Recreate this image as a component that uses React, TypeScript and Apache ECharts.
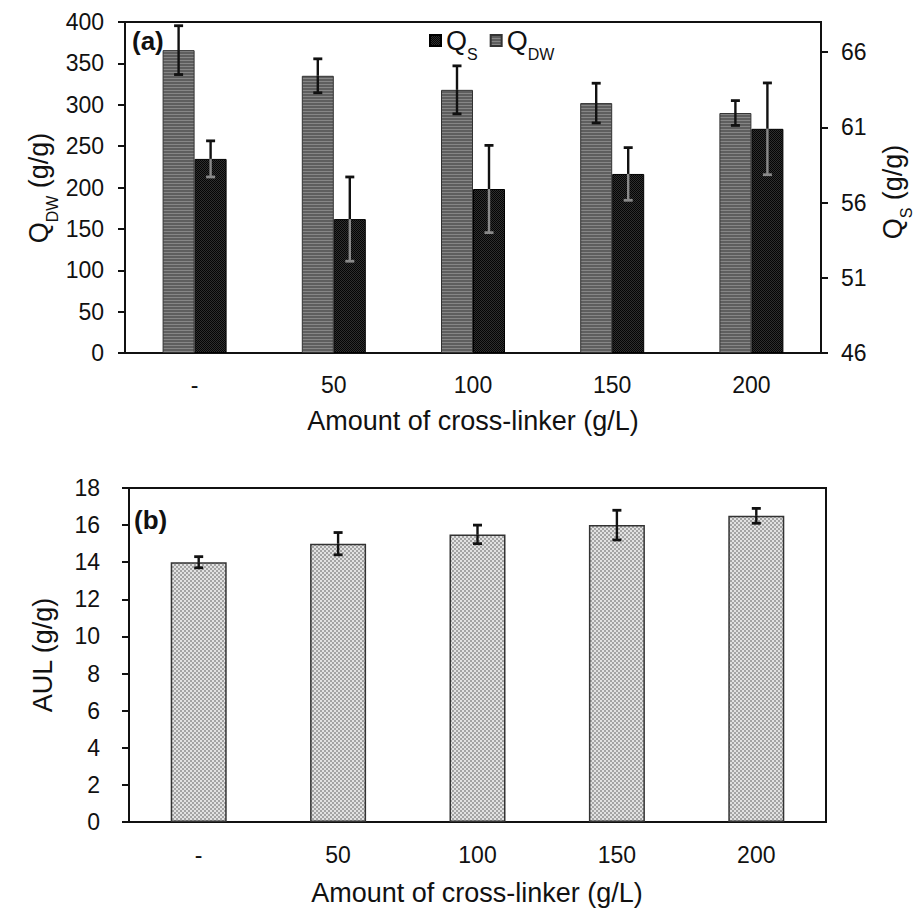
import React, { useEffect, useRef } from "react";
import * as echarts from "echarts";

// ---- data ----
const categories = ["-", "50", "100", "150", "200"];
const qdwValues = [366, 335, 318, 302, 290];
const qdwErrors = [29.5, 20.5, 29, 24, 15];
const qsValues = [58.9, 54.9, 56.9, 57.9, 60.9];
const qsErrors = [1.2, 2.8, 2.9, 1.75, 3.05];
const aulValues = [14.0, 15.0, 15.5, 16.0, 16.5];
const aulErrors = [0.3, 0.6, 0.5, 0.8, 0.4];
const qsAxisMin = 46;
const qsAxisMax = 68;
const qsTickValues = [46, 51, 56, 61, 66];

const FONT = "'Liberation Sans', Arial, Helvetica, sans-serif";
const INK = "#111";
const TOP_BAR_W = 32;
const BOT_BAR_W = 56;

function makePattern(pixels: string[][]) {
  const h = pixels.length;
  const w = pixels[0].length;
  const c = document.createElement("canvas");
  c.width = w;
  c.height = h;
  const ctx = c.getContext("2d")!;
  for (let y = 0; y < h; y++) {
    for (let x = 0; x < w; x++) {
      ctx.fillStyle = pixels[y][x];
      ctx.fillRect(x, y, 1, 1);
    }
  }
  return { image: c.toDataURL(), repeat: "repeat", imageWidth: w, imageHeight: h };
}

function errorSeries(name: string, values: number[], errors: number[], base: number, xAxisIndex: number, yAxisIndex: number, offset: number, innerColor: string) {
  return {
    type: "custom",
    name,
    xAxisIndex,
    yAxisIndex,
    z: 10,
    silent: true,
    data: values.map((v, i) => [i, v - base, errors[i]]),
    renderItem: (params: any, api: any) => {
      const i = api.value(0);
      const v = api.value(1);
      const e = api.value(2);
      const pTop = api.coord([i, v + e]);
      const pMid = api.coord([i, v]);
      const pBot = api.coord([i, v - e]);
      const x = pTop[0] + offset;
      const cap = 4.5;
      return {
        type: "group",
        children: [
          { type: "line", shape: { x1: x, y1: pTop[1], x2: x, y2: pMid[1] }, style: { stroke: INK, lineWidth: 2.4 } },
          { type: "line", shape: { x1: x, y1: pMid[1], x2: x, y2: pBot[1] }, style: { stroke: innerColor, lineWidth: 2.4 } },
          { type: "line", shape: { x1: x - cap, y1: pTop[1], x2: x + cap, y2: pTop[1] }, style: { stroke: INK, lineWidth: 2.8 } },
          { type: "line", shape: { x1: x - cap, y1: pBot[1], x2: x + cap, y2: pBot[1] }, style: { stroke: innerColor, lineWidth: 2.8 } },
        ],
      };
    },
  };
}

export default function App() {
  const ref = useRef<HTMLDivElement>(null);
  useEffect(() => {
    if (!ref.current) return;
    const chart = echarts.init(ref.current, undefined, { renderer: "svg" });

    const L = "#868686", D = "#5e5e5e";
    const qdwFill = makePattern([[L, L], [D, D], [D, D]]);
    const K1 = "#050505", K2 = "#2e2e2e";
    const qsFill = makePattern([[K1, K2], [K2, K1]]);
    const G1 = "#e2e2e2", G2 = "#a4a4a4";
    const aulFill = makePattern([
      [G1, G1, G2, G2],
      [G1, G1, G2, G2],
      [G2, G2, G1, G1],
      [G2, G2, G1, G1],
    ]);

    const axisLine = { show: true, lineStyle: { color: INK, width: 2 } };
    const ytick = { show: true, length: 7, lineStyle: { color: INK, width: 2 } };
    const lbl = { fontSize: 23, color: INK, fontFamily: FONT };

    const subRich = (big: number, small: number, pad: number) => ({
      q: { fontSize: big, fontFamily: FONT, fill: INK },
      s: { fontSize: small, fontFamily: FONT, fill: INK, padding: [pad, 0, 0, 0] },
    });

    const option: any = {
      animation: false,
      backgroundColor: "#fff",
      grid: [
        { left: 125, right: 95, top: 22, height: 331, show: true, borderColor: INK, borderWidth: 2 },
        { left: 129, right: 90, top: 488, height: 334, show: true, borderColor: INK, borderWidth: 2 },
      ],
      legend: {
        left: 424,
        top: 22,
        icon: "rect",
        itemWidth: 11,
        itemHeight: 11,
        itemGap: 12,
        data: ["QS", "QDW"],
        formatter: (n: string) => (n === "QS" ? "{q|Q}{s|S}" : "{q|Q}{s|DW}"),
        textStyle: {
          rich: {
            q: { fontSize: 27, color: INK, fontFamily: FONT },
            s: { fontSize: 16, color: INK, fontFamily: FONT, padding: [27, 0, 0, 0] },
          },
        },
      },
      xAxis: [
        {
          type: "category", gridIndex: 0, data: categories,
          axisLine, axisTick: { show: false },
          axisLabel: { ...lbl, margin: 20 },
        },
        {
          type: "category", gridIndex: 1, data: categories,
          axisLine, axisTick: { show: false },
          axisLabel: { ...lbl, margin: 21 },
        },
      ],
      yAxis: [
        {
          type: "value", gridIndex: 0, min: 0, max: 400, interval: 50,
          axisLine, axisTick: ytick, splitLine: { show: false },
          axisLabel: { ...lbl, margin: 21 },
        },
        {
          type: "value", gridIndex: 0, position: "right",
          min: 0, max: qsAxisMax - qsAxisMin, interval: 5,
          axisLine, axisTick: { ...ytick, customValues: qsTickValues.map((t) => t - qsAxisMin) },
          splitLine: { show: false },
          axisLabel: {
            ...lbl, margin: 20,
            customValues: qsTickValues.map((t) => t - qsAxisMin),
            formatter: (v: number) => String(Math.round(v + qsAxisMin)),
          },
        },
        {
          type: "value", gridIndex: 1, min: 0, max: 18, interval: 2,
          axisLine, axisTick: ytick, splitLine: { show: false },
          axisLabel: { ...lbl, margin: 29 },
        },
      ],
      series: [
        {
          type: "bar", name: "QDW", xAxisIndex: 0, yAxisIndex: 0,
          data: qdwValues, barWidth: TOP_BAR_W, barGap: "0%",
          itemStyle: { color: qdwFill, borderColor: "#333", borderWidth: 1 },
        },
        {
          type: "bar", name: "QS", xAxisIndex: 0, yAxisIndex: 1,
          data: qsValues.map((v) => v - qsAxisMin), barWidth: TOP_BAR_W, barGap: "0%",
          itemStyle: { color: qsFill, borderColor: "#000", borderWidth: 1 },
        },
        {
          type: "bar", name: "AUL", xAxisIndex: 1, yAxisIndex: 2,
          data: aulValues, barWidth: BOT_BAR_W,
          itemStyle: { color: aulFill, borderColor: "#333", borderWidth: 1.5 },
        },
        errorSeries("errQDW", qdwValues, qdwErrors, 0, 0, 0, -TOP_BAR_W / 2, INK),
        errorSeries("errQS", qsValues, qsErrors, qsAxisMin, 0, 1, TOP_BAR_W / 2, "#8a8a8a"),
        errorSeries("errAUL", aulValues, aulErrors, 0, 1, 2, 0, INK),
      ],
      graphic: [
        { type: "text", x: 132, y: 41, style: { text: "(a)", font: `bold 26px ${FONT}`, fill: INK, align: "left", verticalAlign: "middle" } },
        { type: "text", x: 134, y: 520, style: { text: "(b)", font: `bold 26px ${FONT}`, fill: INK, align: "left", verticalAlign: "middle" } },
        {
          type: "text", x: 39, y: 188, rotation: Math.PI / 2,
          style: { text: "{q|Q}{s|DW}{q| (g/g)}", align: "center", verticalAlign: "middle", rich: subRich(27, 16, 26) },
        },
        {
          type: "text", x: 893, y: 192, rotation: Math.PI / 2,
          style: { text: "{q|Q}{s|S}{q| (g/g)}", align: "center", verticalAlign: "middle", rich: subRich(27, 16, 26) },
        },
        {
          type: "text", x: 473, y: 421,
          style: { text: "Amount of cross-linker (g/L)", font: `27px ${FONT}`, fill: INK, align: "center", verticalAlign: "middle" },
        },
        {
          type: "text", x: 43, y: 655, rotation: Math.PI / 2,
          style: { text: "AUL (g/g)", font: `27px ${FONT}`, fill: INK, align: "center", verticalAlign: "middle" },
        },
        {
          type: "text", x: 477, y: 893,
          style: { text: "Amount of cross-linker (g/L)", font: `27px ${FONT}`, fill: INK, align: "center", verticalAlign: "middle" },
        },
      ],
    };
    chart.setOption(option);
    return () => chart.dispose();
  }, []);
  return <div ref={ref} style={{ position: "fixed", left: 0, top: 0, width: 916, height: 912, background: "#fff" }} />;
}
